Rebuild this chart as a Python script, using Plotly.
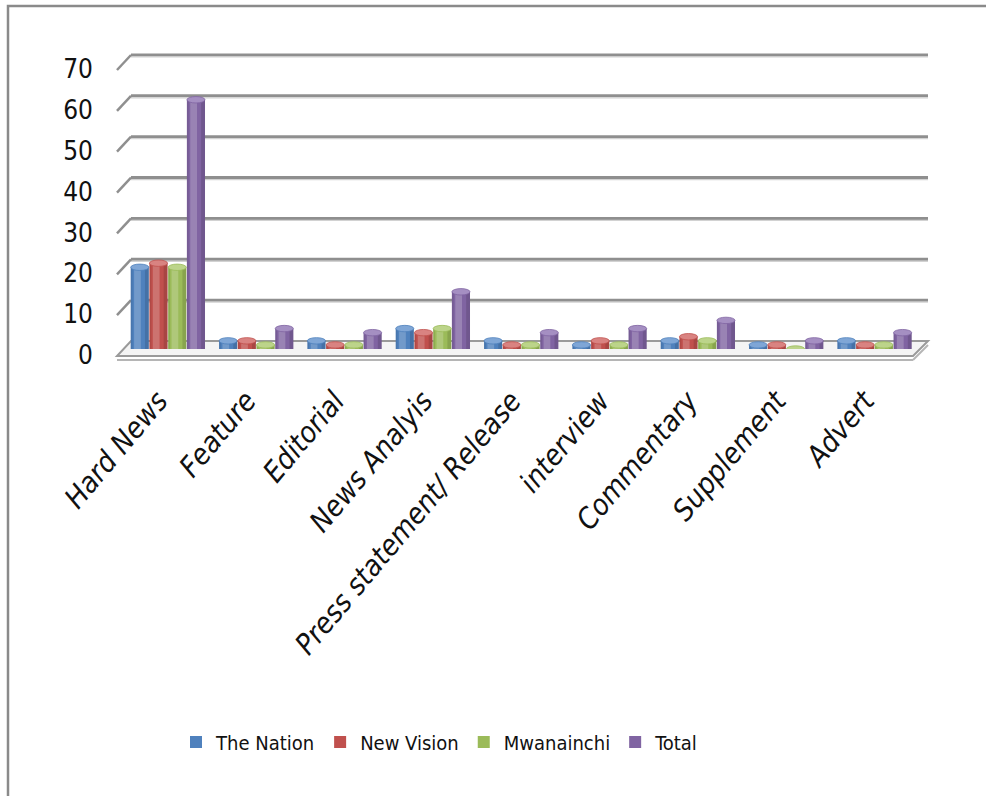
import plotly.graph_objects as go

# ---- data ----
categories = ["Hard News", "Feature", "Editorial", "News Analyis",
              "Press statement/ Release", "interview", "Commentary",
              "Supplement", "Advert"]
the_nation = [20, 2, 2, 5, 2, 1, 2, 1, 2]
new_vision = [21, 2, 1, 4, 1, 2, 3, 1, 1]
mwanainchi = [20, 1, 1, 5, 1, 1, 2, 0, 1]
total = [61, 5, 4, 14, 4, 5, 7, 2, 4]
y_ticks = [0, 10, 20, 30, 40, 50, 60, 70]

series = [
    ("The Nation", the_nation, "#4F81BD", "#7FA6D6"),
    ("New Vision", new_vision, "#C0504D", "#D98381"),
    ("Mwanainchi", mwanainchi, "#9BBB59", "#BCD48A"),
    ("Total", total, "#8064A2", "#A58FC2"),
]

# ---- page geometry (pixels) ----
W, H = 986, 796
L, R, T, B = 124, 919, 63, 349          # plot area edges
Y_MAX = 70


def px_x(p):
    return (p - L) / (R - L)


def px_y(p):
    return (B - p) / (B - T)


def val_px(v):
    # pixel row of value v on the linear y axis
    return B - v / Y_MAX * (B - T)


FONT = "DejaVu Sans Condensed, Liberation Sans Narrow, sans-serif"

fig = go.Figure()

# cylinders: base bar, soft highlight, darker left and right edges
slot = 0.212
bar_w = 0.205
cap_px = 0.205 * (R - L) / len(categories)
shapes = []
for i, (name, vals, col, cap) in enumerate(series):
    off = -0.424 + i * slot
    fig.add_trace(go.Bar(
        x=categories, y=vals, name=name, offset=off, width=bar_w,
        marker=dict(color=col, line=dict(width=0)),
    ))
    fig.add_trace(go.Bar(
        x=categories, y=vals, offset=off + 0.18 * slot, width=0.36 * slot,
        marker=dict(color="rgba(255,255,255,0.2)", line=dict(width=0)),
        showlegend=False, hoverinfo="skip",
    ))
    fig.add_trace(go.Bar(
        x=categories, y=vals, offset=off, width=0.1 * slot,
        marker=dict(color="rgba(0,0,0,0.08)", line=dict(width=0)),
        showlegend=False, hoverinfo="skip",
    ))
    fig.add_trace(go.Bar(
        x=categories, y=vals, offset=off + 0.76 * slot, width=0.21 * slot,
        marker=dict(color="rgba(0,0,0,0.12)", line=dict(width=0)),
        showlegend=False, hoverinfo="skip",
    ))
    # elliptical top cap of each cylinder, anchored on the bar's value
    for k, v in enumerate(vals):
        shapes.append(dict(
            type="circle", xref="x", yref="y",
            xsizemode="pixel", ysizemode="pixel",
            xanchor=k + off + bar_w / 2, yanchor=v,
            x0=-cap_px / 2, x1=cap_px / 2, y0=-3.2, y1=3.2,
            fillcolor=cap, line=dict(color=col, width=0.8), layer="above",
        ))

# outer chart frame
shapes.append(dict(type="rect", xref="paper", yref="paper",
                   x0=px_x(8), x1=px_x(1100), y0=px_y(6), y1=px_y(900),
                   line=dict(color="#8a8a8a", width=2.5), layer="below"))

# floor slab
y0p = val_px(0)
shapes.append(dict(type="path", xref="paper", yref="paper",
                   path=(f"M{px_x(117)},{px_y(y0p + 7)} L{px_x(913)},{px_y(y0p + 7)} "
                         f"L{px_x(928)},{px_y(y0p - 8)} L{px_x(131)},{px_y(y0p - 8)} Z"),
                   fillcolor="#f4f4f4", line=dict(color="#9a9a9a", width=2),
                   layer="below"))
shapes.append(dict(type="line", xref="paper", yref="paper",
                   x0=px_x(117), x1=px_x(913), y0=px_y(y0p + 11), y1=px_y(y0p + 11),
                   line=dict(color="#b5b5b5", width=2), layer="below"))
shapes.append(dict(type="line", xref="paper", yref="paper",
                   x0=px_x(913), x1=px_x(928), y0=px_y(y0p + 11), y1=px_y(y0p - 4),
                   line=dict(color="#b5b5b5", width=2), layer="below"))

# back-wall and side-wall gridlines
for v in y_ticks[1:]:
    yp = val_px(v)
    shapes.append(dict(type="line", xref="paper", yref="paper",
                       x0=px_x(131), x1=px_x(928), y0=px_y(yp - 8), y1=px_y(yp - 8),
                       line=dict(color="#8f8f8f", width=3), layer="below"))
    shapes.append(dict(type="line", xref="paper", yref="paper",
                       x0=px_x(131), x1=px_x(928), y0=px_y(yp - 6), y1=px_y(yp - 6),
                       line=dict(color="#d2d2d2", width=1.2), layer="below"))
    shapes.append(dict(type="line", xref="paper", yref="paper",
                       x0=px_x(117), x1=px_x(131), y0=px_y(yp + 7), y1=px_y(yp - 8),
                       line=dict(color="#8f8f8f", width=2.5), layer="below"))

fig.update_layout(
    width=W, height=H,
    margin=dict(l=L, r=W - R, t=T, b=H - B, pad=0),
    paper_bgcolor="white", plot_bgcolor="rgba(0,0,0,0)",
    barmode="overlay",
    shapes=shapes,
    showlegend=True,
    legend=dict(orientation="h", x=px_x(176), xanchor="left",
                y=px_y(742), yanchor="middle",
                font=dict(family=FONT, size=20, color="#111"),
                itemwidth=30, traceorder="normal"),
    xaxis=dict(
        type="category", range=[-0.5, len(categories) - 0.5],
        showgrid=False, showline=False, zeroline=False, ticks="",
        tickangle=-50, ticklabelstandoff=28, ticklabelshift=-10,
        tickfont=dict(family=FONT, size=29, color="#111", style="italic"),
    ),
    yaxis=dict(
        range=[0, Y_MAX], tickvals=y_ticks, showgrid=False, showline=False,
        zeroline=False, ticks="", ticklabelstandoff=30, ticklabelshift=6,
        tickfont=dict(family=FONT, size=26, color="#111"),
    ),
)

fig.write_html("out.html")
